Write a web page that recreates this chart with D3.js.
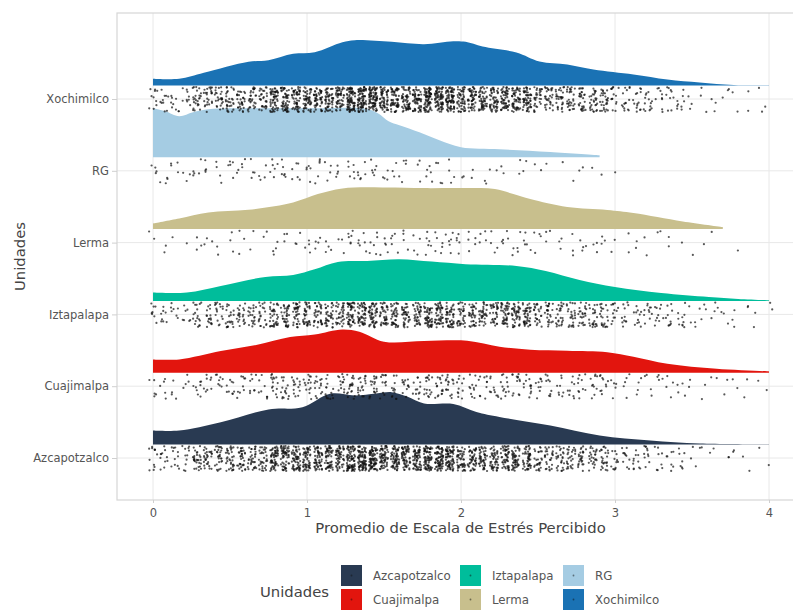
<!DOCTYPE html>
<html>
<head>
<meta charset="utf-8">
<script src="https://cdn.jsdelivr.net/npm/d3@7"></script>
<style>
  html, body { margin: 0; padding: 0; background: #ffffff; }
  svg { display: block; font-family: "DejaVu Sans", Verdana, sans-serif; }
</style>
</head>
<body>
<svg id="chart" width="793" height="610"></svg>
<script>
// ---------------- DATA ----------------
const categories = ["Azcapotzalco", "Cuajimalpa", "Iztapalapa", "Lerma", "RG", "Xochimilco"];
const colors = ["#293a52", "#e2150e", "#00bd9b", "#c8bf8d", "#a5cce3", "#1a72b4"];
const xTicks = [0, 1, 2, 3, 4];
const xTitle = "Promedio de Escala de Estrés Percibido";
const yTitle = "Unidades";
const legendTitle = "Unidades";

// density curves: [value, density]
const densAzcapotzalco = [[0,0.14],[0.17,0.14],[0.44,0.223],[0.75,0.35],[0.97,0.373],[1.15,0.507],[1.31,0.49],[1.45,0.51],[1.55,0.523],[1.65,0.48],[1.76,0.41],[1.95,0.405],[2.1,0.326],[2.25,0.276],[2.58,0.19],[2.9,0.09],[3.23,0.04],[3.55,0.01],[4.0,0.003]];
const densCuajimalpa = [[0,0.133],[0.17,0.133],[0.44,0.217],[0.67,0.277],[0.89,0.357],[1.05,0.383],[1.23,0.433],[1.34,0.41],[1.5,0.31],[1.76,0.317],[2.04,0.32],[2.25,0.26],[2.45,0.23],[2.69,0.22],[2.95,0.205],[3.12,0.16],[3.34,0.09],[3.66,0.04],[4.0,0.013]];
const densIztapalapa = [[0,0.083],[0.22,0.083],[0.44,0.15],[0.73,0.24],[0.91,0.26],[1.05,0.317],[1.2,0.39],[1.39,0.40],[1.6,0.417],[1.81,0.393],[2.03,0.367],[2.36,0.35],[2.55,0.30],[2.77,0.21],[3.0,0.14],[3.3,0.08],[3.61,0.04],[3.8,0.02],[4.0,0.007]];
const densLerma = [[0,0.057],[0.17,0.107],[0.36,0.167],[0.62,0.193],[0.91,0.267],[1.07,0.35],[1.23,0.407],[1.5,0.417],[1.76,0.41],[2.03,0.41],[2.22,0.40],[2.34,0.35],[2.45,0.30],[2.69,0.22],[2.95,0.19],[3.12,0.16],[3.44,0.076],[3.7,0.02]];
const densRG = [[0,0.49],[0.08,0.46],[0.17,0.41],[0.26,0.45],[0.36,0.48],[0.5,0.49],[0.8,0.49],[1.1,0.49],[1.38,0.485],[1.46,0.44],[1.53,0.36],[1.6,0.32],[1.73,0.25],[1.86,0.17],[2.0,0.10],[2.25,0.08],[2.58,0.053],[2.9,0.02]];
const densXochimilco = [[0,0.067],[0.17,0.067],[0.33,0.127],[0.62,0.237],[0.75,0.253],[0.91,0.317],[1.05,0.333],[1.23,0.433],[1.31,0.453],[1.55,0.437],[1.76,0.413],[1.95,0.443],[2.03,0.437],[2.14,0.39],[2.36,0.33],[2.51,0.24],[2.69,0.21],[2.86,0.16],[3.12,0.11],[3.34,0.06],[3.55,0.03],[3.77,0.005],[4.0,0.003]];
const densities = [densAzcapotzalco, densCuajimalpa, densIztapalapa, densLerma, densRG, densXochimilco];

// observation counts per 0.25-wide bin of the score (0–0.25, 0.25–0.5, … 3.75–4)
const binStarts = [0,0.25,0.5,0.75,1,1.25,1.5,1.75,2,2.25,2.5,2.75,3,3.25,3.5,3.75];
const countsAzcapotzalco = [45,85,130,170,215,240,245,215,185,145,105,75,45,22,9,6];
const countsCuajimalpa = [18,24,34,44,55,55,48,48,42,38,34,30,18,12,8,6];
const countsIztapalapa = [30,52,82,105,135,150,150,142,135,128,98,68,45,30,15,9];
const countsLerma = [6,8,10,10,15,18,18,18,18,15,13,10,8,5,3,1];
const countsRG = [15,13,18,18,18,18,15,13,8,6,5,4,1,0,0,0];
const countsXochimilco = [38,75,120,160,205,245,230,230,205,165,120,85,58,27,12,7];
const counts = [countsAzcapotzalco, countsCuajimalpa, countsIztapalapa, countsLerma, countsRG, countsXochimilco];

// ---------------- LAYOUT ----------------
const svg = d3.select("#chart");
const panel = {left: 117, top: 13, right: 806, bottom: 500};

const x = d3.scaleLinear().domain([0, 4]).range([153, 769]);
const y = d3.scalePoint().domain(categories).range([458, 99]);
const h = d3.scaleLinear().domain([0, 1]).range([0, 100]);
const cloudOffset = 13.5;
const jitterH = 25;
const levelStep = 1 / 14;

svg.append("rect").attr("x", panel.left).attr("y", panel.top)
  .attr("width", panel.right - panel.left).attr("height", panel.bottom - panel.top)
  .attr("fill", "#fff");

const grid = svg.append("g");
grid.selectAll("line.vx").data(xTicks).join("line")
  .attr("x1", d => x(d)).attr("x2", d => x(d))
  .attr("y1", panel.top).attr("y2", panel.bottom)
  .attr("stroke", "#e8e8e8").attr("stroke-width", 1);
grid.selectAll("line.hy").data(categories).join("line")
  .attr("x1", panel.left).attr("x2", panel.right)
  .attr("y1", d => y(d)).attr("y2", d => y(d))
  .attr("stroke", "#e8e8e8").attr("stroke-width", 1);

// densities (clouds)
const area = d3.area().curve(d3.curveCatmullRom.alpha(0.5));
const clouds = svg.append("g");
categories.forEach((c, i) => {
  const base = y(c) - cloudOffset;
  area.x(d => x(d[0])).y0(base).y1(d => base - Math.max(0, h(d[1])));
  clouds.append("path").datum(densities[i])
    .attr("d", area)
    .attr("fill", colors[i]);
});

// deterministic jitter (layout only)
function hash(n) {
  n = (n ^ 61) ^ (n >>> 16);
  n = n + (n << 3);
  n = n ^ (n >>> 4);
  n = Math.imul(n, 0x27d4eb2d);
  n = n ^ (n >>> 15);
  return (n >>> 0) / 4294967296;
}
const pts = [];
categories.forEach((c, i) => {
  let idx = 0;
  binStarts.forEach((b, j) => {
    const end = b + 0.25;
    const levels = [];
    for (let k = 0; k <= 56; k++) {
      const v = k * levelStep;
      if (v >= b - 1e-9 && (v < end - 1e-9 || (j === binStarts.length - 1 && v <= 4 + 1e-9))) levels.push(v);
    }
    for (let n = 0; n < counts[i][j]; n++) {
      const v = levels[n % levels.length];
      const seed = (i + 1) * 7919 + idx * 31;
      const u = hash(seed * 2 + 1);
      const w = hash(seed * 2 + 7);
      pts.push({cat: c, value: v, dy: (u - 0.5) * jitterH, dx: (w - 0.5) * 0.055});
      idx++;
    }
  });
});
svg.append("g").selectAll("circle").data(pts).join("circle")
  .attr("cx", d => x(d.value + d.dx))
  .attr("cy", d => y(d.cat) + 0.5 + d.dy)
  .attr("r", 1.1)
  .attr("fill", "#111")
  .attr("fill-opacity", 0.7);

svg.append("rect").attr("x", panel.left).attr("y", panel.top)
  .attr("width", panel.right - panel.left).attr("height", panel.bottom - panel.top)
  .attr("fill", "none").attr("stroke", "#d6d6d6").attr("stroke-width", 1.2);

// axes
const xAxis = svg.append("g").attr("transform", `translate(0,${panel.bottom})`)
  .call(d3.axisBottom(x).tickValues(xTicks).tickFormat(d3.format("d")).tickSize(3).tickPadding(6));
xAxis.select(".domain").remove();
xAxis.selectAll(".tick line").attr("stroke", "#cfcfcf");
xAxis.selectAll(".tick text").attr("fill", "#555").attr("font-size", "11.5px")
  .attr("font-family", "DejaVu Sans, Verdana, sans-serif");

const yAxis = svg.append("g").attr("transform", `translate(${panel.left},0)`)
  .call(d3.axisLeft(y).tickSize(5).tickPadding(3));
yAxis.select(".domain").remove();
yAxis.selectAll(".tick line").attr("stroke", "#cfcfcf");
yAxis.selectAll(".tick text").attr("fill", "#555").attr("font-size", "11.5px")
  .attr("font-family", "DejaVu Sans, Verdana, sans-serif");

svg.append("text").attr("x", (panel.left + panel.right) / 2 - 1).attr("y", 533)
  .attr("text-anchor", "middle").attr("font-size", "14.8px").attr("fill", "#444")
  .text(xTitle);
svg.append("text").attr("transform", `translate(25,${(panel.top + panel.bottom) / 2}) rotate(-90)`)
  .attr("text-anchor", "middle").attr("font-size", "14.8px").attr("fill", "#444")
  .text(yTitle);

// legend
const legend = svg.append("g");
legend.append("text").attr("x", 260).attr("y", 597).attr("font-size", "14.8px").attr("fill", "#444")
  .text(legendTitle);
const colX = [341, 460, 563];
const rowY = [565, 589];
categories.forEach((c, i) => {
  const col = Math.floor(i / 2), row = i % 2;
  const g = legend.append("g").attr("transform", `translate(${colX[col]},${rowY[row]})`);
  g.append("rect").attr("width", 21).attr("height", 21).attr("fill", colors[i]);
  g.append("circle").attr("cx", 10.5).attr("cy", 10.5).attr("r", 0.9).attr("fill", "#111").attr("fill-opacity", 0.5);
  g.append("text").attr("x", 32).attr("y", 14.5).attr("font-size", "11.8px").attr("fill", "#555").text(c);
});
</script>
</body>
</html>
